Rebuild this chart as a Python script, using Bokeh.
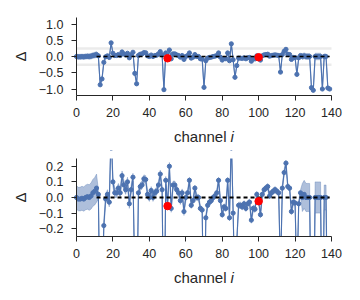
import numpy as np
from bokeh.plotting import figure
from bokeh.layouts import column
from bokeh.models import (Range1d, FixedTicker, Label, BoxAnnotation,
                          CustomJSTickFormatter, ColumnDataSource)
from bokeh.embed import file_html
from bokeh.resources import INLINE

# ---------------- data ----------------
channels = list(range(140))
delta = [
    0.00, -0.01, -0.01, -0.005, -0.01, 0.00, 0.005, 0.00, 0.01, 0.03,     # 0-9
    0.04, 0.06, 0.02, -0.87, -0.69, -0.18, -0.01, 0.02, -0.03, 0.42,      # 10-19
    0.10, 0.03, 0.03, 0.06, 0.03, 0.14, 0.08, 0.05, 0.10, -0.04,          # 20-29
    0.05, 0.13, -0.52, -0.84, 0.03, 0.07, 0.08, 0.12, 0.115, 0.02,        # 30-39
    0.00, 0.045, 0.00, 0.03, 0.04, 0.08, 0.15, 0.05, -1.02, 0.11,         # 40-49
    -0.055, 0.20, -0.07, 0.08, 0.08, 0.05, 0.03, -0.02, 0.03, -0.09,      # 50-59
    0.00, 0.03, 0.11, -0.05, -0.02, 0.06, 0.00, 0.00, -0.07, -0.08,       # 60-69
    -0.95, -0.13, -0.05, -0.03, -0.02, 0.00, 0.01, 0.03, 0.11, -0.02,     # 70-79
    -0.11, -0.06, -0.07, 0.11, -0.13, 0.39, -0.10, -0.64, -0.28, -0.05,   # 80-89
    -0.05, -0.06, -0.04, -0.07, -0.04, -0.03, -0.145, -0.07, -0.075, 0.02,  # 90-99
    -0.024, -0.11, 0.02, 0.05, 0.06, 0.07, 0.01, 0.03, 0.04, 0.05,        # 100-109
    0.04, 0.03, -0.48, 0.06, 0.16, 0.22, 0.07, 0.06, -0.09, -0.03,        # 110-119
    -0.035, -0.55, -0.04, 0.03, 0.00, 0.02, 0.00, 0.00, 0.00, -0.96,      # 120-129
    -1.04, 0.00, 0.00, 0.00, 0.00, -1.00, 0.00, 0.00, -0.97, -1.00,       # 130-139
]
delta_err = [
    0.075, 0.075, 0.076, 0.077, 0.078, 0.079, 0.080, 0.082, 0.084, 0.086,
    0.088, 0.090, 0.030, 0.030, 0.030, 0.030, 0.030, 0.030, 0.030, 0.030,
    0.030, 0.030, 0.030, 0.030, 0.030, 0.030, 0.030, 0.030, 0.030, 0.030,
    0.030, 0.025, 0.025, 0.025, 0.025, 0.025, 0.025, 0.025, 0.025, 0.025,
    0.025, 0.025, 0.025, 0.025, 0.025, 0.025, 0.025, 0.025, 0.025, 0.025,
    0.025, 0.025, 0.025, 0.025, 0.025, 0.025, 0.025, 0.025, 0.025, 0.025,
    0.025, 0.020, 0.020, 0.020, 0.020, 0.020, 0.020, 0.020, 0.020, 0.020,
    0.020, 0.020, 0.020, 0.020, 0.020, 0.020, 0.020, 0.020, 0.020, 0.020,
    0.020, 0.020, 0.020, 0.020, 0.020, 0.020, 0.020, 0.020, 0.020, 0.020,
    0.020, 0.020, 0.020, 0.020, 0.020, 0.020, 0.020, 0.020, 0.020, 0.020,
    0.020, 0.020, 0.020, 0.020, 0.020, 0.020, 0.020, 0.020, 0.020, 0.020,
    0.020, 0.020, 0.020, 0.020, 0.020, 0.020, 0.020, 0.020, 0.020, 0.020,
    0.020, 0.020, 0.020, 0.020, 0.090, 0.090, 0.090, 0.090, 0.090, 0.050,
    0.050, 0.100, 0.100, 0.100, 0.100, 0.050, 0.080, 0.080, 0.050, 0.050,
]
ref_channels = list(range(11, 140))
ref_values = [0.0] * len(ref_channels)
highlight_channels = [50, 100]
highlight_values = [delta[c] for c in highlight_channels]

x_ticks = [0, 20, 40, 60, 80, 100, 120, 140]
x_limits = (0, 140)
top_y_ticks = [-1.0, -0.5, 0.0, 0.5, 1.0]
bottom_y_ticks = [-0.2, -0.1, 0.0, 0.1, 0.2]
zoom_window = [-0.25, 0.25]

# ---------------- styling / geometry ----------------
BLUE = "#4C72B0"
DARK = "#262626"
FONT = "Liberation Sans"
AXES_W = 255.0   # px of the axes box
AXES_H = 78.0
LEFT_PAD = 76.0
RIGHT_PAD = 16.0
FIG_W = int(LEFT_PAD + AXES_W + RIGHT_PAD)

d = np.array(delta)
e = np.array(delta_err)
src = ColumnDataSource(dict(x=channels, y=delta, lo=(d - e).tolist(), hi=(d + e).tolist()))
ref_src = ColumnDataSource(dict(x=ref_channels, y=ref_values))
hl_src = ColumnDataSource(dict(x=highlight_channels, y=highlight_values))
win_src = ColumnDataSource(dict(x0=[x_limits[0]] * len(zoom_window),
                                x1=[x_limits[1]] * len(zoom_window),
                                y=zoom_window))

fmt = CustomJSTickFormatter(code="return tick.toFixed(1).replace('-', '\u2212');")


def panel(ylim, yticks, show_window, dash_width, pad_top, fig_h):
    lo_lim, hi_lim = ylim
    per_px_y = (hi_lim - lo_lim) / AXES_H
    per_px_x = (x_limits[1] - x_limits[0]) / AXES_W
    # the plotting frame fills the whole figure; axes are pinned inside it
    xr = Range1d(x_limits[0] - LEFT_PAD * per_px_x, x_limits[1] + RIGHT_PAD * per_px_x)
    yr = Range1d(hi_lim - (fig_h - pad_top) * per_px_y, hi_lim + pad_top * per_px_y)
    p = figure(frame_width=FIG_W, frame_height=fig_h,
               min_border_left=0, min_border_right=0,
               min_border_top=0, min_border_bottom=0,
               x_range=xr, y_range=yr,
               output_backend="svg", toolbar_location=None,
               background_fill_color="white", border_fill_color="white")
    p.outline_line_color = None
    p.xgrid.visible = False
    p.ygrid.visible = False

    if show_window:
        p.segment(x0="x0", x1="x1", y0="y", y1="y", source=win_src,
                  line_color="#ebebeb", line_width=2.5)

    p.varea(x="x", y1="lo", y2="hi", source=src, fill_color=BLUE, fill_alpha=0.45)
    p.line(x="x", y="lo", source=src, line_color=BLUE, line_alpha=0.5, line_width=0.7)
    p.line(x="x", y="hi", source=src, line_color=BLUE, line_alpha=0.5, line_width=0.7)
    p.line(x="x", y="y", source=src, line_color=BLUE, line_width=1.1)
    p.scatter(x="x", y="y", source=src, size=4.2, fill_color=BLUE, line_color=BLUE)
    p.line(x="x", y="y", source=ref_src, line_color="black",
           line_width=dash_width, line_dash="4 3")
    p.scatter(x="x", y="y", source=hl_src, size=7.5, fill_color="red", line_color="red")

    # white covers outside the y-limits (act as clipping of the axes box)
    p.add_layout(BoxAnnotation(top=lo_lim, fill_color="white", fill_alpha=1.0,
                               line_color=None, level="glyph"))
    p.add_layout(BoxAnnotation(bottom=hi_lim, fill_color="white", fill_alpha=1.0,
                               line_color=None, level="glyph"))

    for ax in (p.xaxis[0], p.yaxis[0]):
        ax.axis_line_color = DARK
        ax.major_tick_line_color = DARK
        ax.minor_tick_line_color = None
        ax.major_tick_out = 5
        ax.major_tick_in = 0
        ax.major_label_text_font = FONT
        ax.major_label_text_font_size = "12.5px"
        ax.major_label_text_color = DARK

    p.xaxis.fixed_location = lo_lim
    p.xaxis.bounds = x_limits
    p.xaxis.ticker = FixedTicker(ticks=x_ticks)
    p.xaxis.major_label_standoff = 7

    p.yaxis.fixed_location = x_limits[0]
    p.yaxis.bounds = (lo_lim, hi_lim)
    p.yaxis.ticker = FixedTicker(ticks=yticks)
    p.yaxis.formatter = fmt
    p.yaxis.major_label_standoff = 8
    p.yaxis.axis_label = "Δ"
    p.yaxis.axis_label_text_font = FONT
    p.yaxis.axis_label_text_font_style = "normal"
    p.yaxis.axis_label_text_font_size = "15px"
    p.yaxis.axis_label_text_color = DARK
    p.yaxis.axis_label_standoff = 7

    # x-axis title "channel i" (italic i)
    ypos = lo_lim - 41.0 * per_px_y
    p.add_layout(Label(x=53.5, y=ypos, text="channel", text_font=FONT,
                       text_font_size="15px", text_color=DARK,
                       text_align="left", text_baseline="alphabetic"))
    p.add_layout(Label(x=84.6, y=ypos, text="i", text_font=FONT,
                       text_font_size="15px", text_font_style="italic",
                       text_color=DARK, text_align="left", text_baseline="alphabetic"))
    return p


top = panel((-1.2, 1.2), top_y_ticks, True, 1.6, 17, 150)
bottom = panel((-0.25, 0.25), bottom_y_ticks, False, 2.0, 8, 142)

layout = column(top, bottom, spacing=0)
open("out.html", "w").write(file_html(layout, INLINE))
